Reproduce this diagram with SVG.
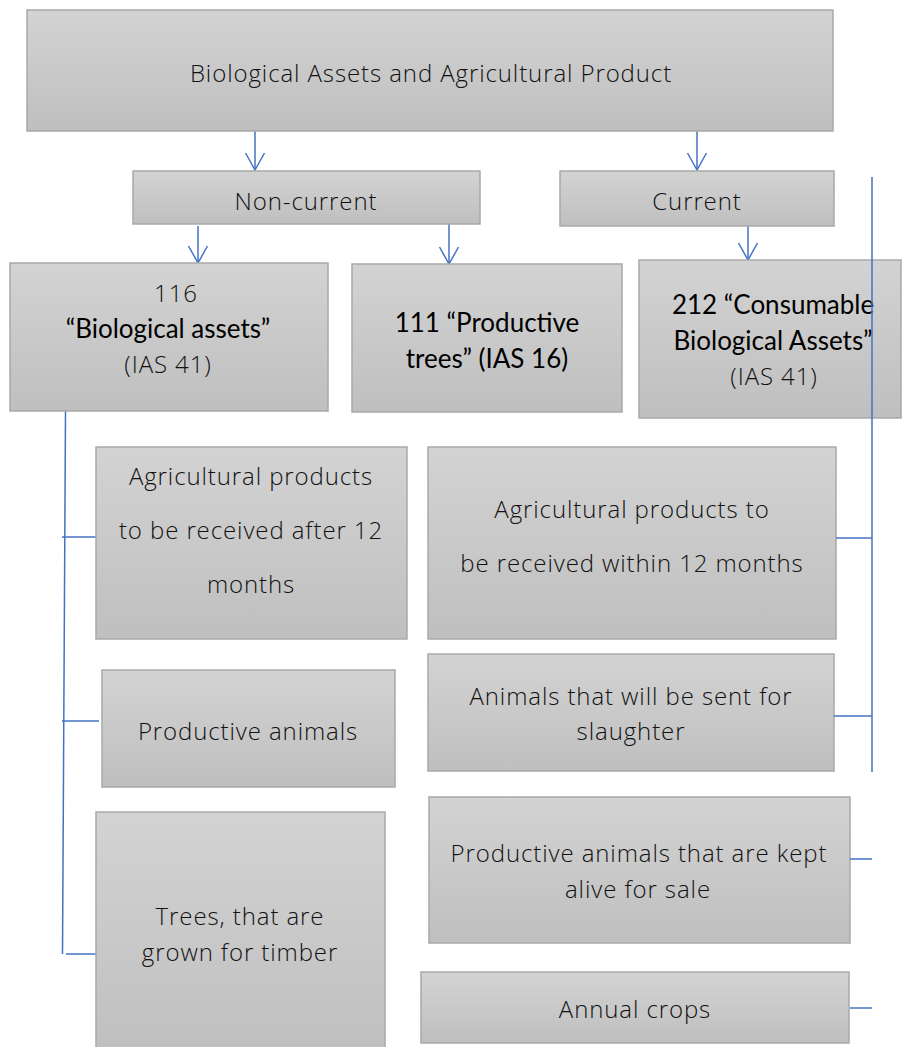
<svg xmlns="http://www.w3.org/2000/svg" width="902" height="1047" viewBox="0 0 902 1047">
<defs>
<linearGradient id="g" x1="0" y1="0" x2="0" y2="1">
<stop offset="0" stop-color="#d3d3d3"/>
<stop offset="1" stop-color="#bfbfbf"/>
</linearGradient>
<marker id="arr" markerUnits="userSpaceOnUse" markerWidth="40" markerHeight="40" refX="0" refY="0" orient="auto" viewBox="-20 -20 40 40" overflow="visible">
<path d="M-17,-9.5 L0,0 L-17,9.5" fill="none" stroke="#4472c4" stroke-width="1.5"/>
</marker>
</defs>
<style>
.box{fill:url(#g);stroke:#a9a9a9;stroke-width:1.5}
.t{font-family:"Open Sans","Liberation Sans",sans-serif;font-size:24px;font-weight:350;letter-spacing:0.9px;fill:#111;text-anchor:middle}
.b{font-family:Lato,"Open Sans",sans-serif;font-size:26px;fill:#000;text-anchor:middle}
.c{fill:none;stroke:#4472c4;stroke-width:1.5}
</style>
<rect width="902" height="1047" fill="#fff"/>
<g id="connectors">
<line class="c" x1="255" y1="131" x2="255" y2="170" marker-end="url(#arr)"/>
<line class="c" x1="697" y1="131" x2="697" y2="170" marker-end="url(#arr)"/>
<line class="c" x1="198" y1="226" x2="198" y2="263" marker-end="url(#arr)"/>
<line class="c" x1="449" y1="224" x2="449" y2="264" marker-end="url(#arr)"/>
<line class="c" x1="748" y1="226" x2="748" y2="260" marker-end="url(#arr)"/>
<path class="c" d="M65.5,411 L62.5,954"/>
<path class="c" d="M62,537 H99"/>
<path class="c" d="M62,721 H99"/>
<path class="c" d="M66,954 H102"/>
</g>
<g id="top"><rect class="box" x="27" y="10" width="806" height="121"/><text class="t" x="431" y="82">Biological Assets and Agricultural Product</text></g>
<g id="noncurrent"><rect class="box" x="133" y="171" width="347" height="53"/><text class="t" x="306" y="210">Non-current</text></g>
<g id="current"><rect class="box" x="560" y="171" width="274" height="55"/><text class="t" x="697" y="210">Current</text></g>
<g id="n116"><rect class="box" x="10" y="263" width="318" height="148"/><text class="t" x="176" y="302">116</text><text class="b" x="168" y="338">“Biological assets”</text><text class="t" x="168" y="373">(IAS 41)</text></g>
<g id="n111"><rect class="box" x="352" y="264" width="270" height="148"/><text class="b" x="487" y="332">111 “Productive</text><text class="b" x="487" y="368">trees” (IAS 16)</text></g>
<g id="n212"><rect class="box" x="639" y="260" width="262" height="158"/><text class="b" x="773" y="314">212 “Consumable</text><text class="b" x="773" y="350">Biological Assets”</text><text class="t" x="774" y="385">(IAS 41)</text></g>
<g id="agriAfter"><rect class="box" x="96" y="447" width="311" height="192"/><text class="t" x="251" y="485">Agricultural products</text><text class="t" x="251" y="539">to be received after 12</text><text class="t" x="251" y="593">months</text></g>
<g id="agriWithin"><rect class="box" x="428" y="447" width="408" height="192"/><text class="t" x="632" y="518">Agricultural products to</text><text class="t" x="632" y="572">be received within 12 months</text></g>
<g id="slaughter"><rect class="box" x="428" y="654" width="406" height="117"/><text class="t" x="631" y="705">Animals that will be sent for</text><text class="t" x="631" y="740">slaughter</text></g>
<g id="prodAnimals"><rect class="box" x="102" y="670" width="293" height="117"/><text class="t" x="248" y="740">Productive animals</text></g>
<g id="trees"><rect class="box" x="96" y="812" width="289" height="245"/><text class="t" x="240" y="925">Trees, that are</text><text class="t" x="240" y="961">grown for timber</text></g>
<g id="keptAlive"><rect class="box" x="429" y="797" width="421" height="146"/><text class="t" x="639" y="862">Productive animals that are kept</text><text class="t" x="638" y="898">alive for sale</text></g>
<g id="annual"><rect class="box" x="421" y="972" width="428" height="71"/><text class="t" x="635" y="1018">Annual crops</text></g>
<g id="connectors-right">
<path class="c" d="M872,177 V772"/>
<path class="c" d="M836,538 H872"/>
<path class="c" d="M834,716 H872"/>
<path class="c" d="M850,859 H872"/>
<path class="c" d="M850,1008 H872"/>
</g>
</svg>
